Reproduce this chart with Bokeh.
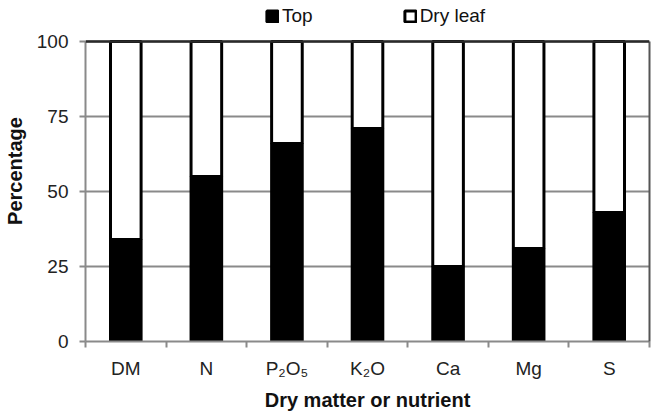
from bokeh.plotting import figure
from bokeh.models import ColumnDataSource, FixedTicker, Range1d, Legend, LegendItem, LinearAxis, Span
from bokeh.embed import file_html
from bokeh.resources import INLINE

categories = ["DM", "N", "P₂O₅", "K₂O", "Ca", "Mg", "S"]
top_pct = [34, 55, 66, 71, 25, 31, 43]
dry_leaf_pct = [66, 45, 34, 29, 75, 69, 57]
y_ticks = [0, 25, 50, 75, 100]

xpos = [i + 1 for i in range(len(categories))]
bounds = [i + 0.5 for i in range(len(categories) + 1)]

source = ColumnDataSource(dict(x=xpos, top=top_pct, dry=dry_leaf_pct))

FONT = "Liberation Sans"
GREY = "#8a8a8a"

# frame spans the full height above the x axis; the room above 100 holds the legend
p = figure(width=655, height=413, output_backend="svg", toolbar_location=None,
           x_range=Range1d(0.5, 0.5 + len(categories)), y_range=Range1d(0, 100 * 341 / 300),
           min_border_left=85, min_border_right=6, min_border_top=0, min_border_bottom=72)

p.xgrid.grid_line_color = None
p.ygrid.grid_line_color = GREY
p.ygrid.grid_line_width = 2
p.outline_line_color = None

# dark top edge of the plot area
p.add_layout(Span(location=y_ticks[-1], dimension="width", line_color="#2a2a2a", line_width=2.5))

rs = p.vbar_stack(["top", "dry"], x="x", width=0.38, color=["black", "white"],
                  line_color="black", line_width=3, source=source)

# y axis
p.yaxis.ticker = FixedTicker(ticks=y_ticks)
p.yaxis.bounds = (0, 100)
p.yaxis.axis_line_color = GREY
p.yaxis.axis_line_width = 2
p.yaxis.major_tick_line_color = GREY
p.yaxis.major_tick_line_width = 2
p.yaxis.major_tick_out = 6
p.yaxis.major_tick_in = 0
p.yaxis.minor_tick_line_color = None
p.yaxis.major_label_text_font = FONT
p.yaxis.major_label_text_font_size = "19px"
p.yaxis.major_label_text_color = "#222222"
p.yaxis.major_label_standoff = 11
p.yaxis.axis_label = "Percentage"
p.yaxis.axis_label_text_font = FONT
p.yaxis.axis_label_text_font_style = "bold"
p.yaxis.axis_label_text_font_size = "20px"
p.yaxis.axis_label_text_color = "#111111"
p.yaxis.axis_label_standoff = 8

# right border line of the plot area
right = LinearAxis(ticker=FixedTicker(ticks=[]), bounds=(0, 100),
                   axis_line_color="#555555", axis_line_width=2,
                   major_tick_line_color=None, minor_tick_line_color=None,
                   major_tick_out=0, major_tick_in=0, major_label_standoff=0,
                   major_label_text_font_size="0px")
p.add_layout(right, "right")

# x axis
p.xaxis.ticker = FixedTicker(ticks=xpos, minor_ticks=bounds)
p.xaxis.major_label_overrides = {x: c for x, c in zip(xpos, categories)}
p.xaxis.axis_line_color = GREY
p.xaxis.axis_line_width = 2
p.xaxis.major_tick_line_color = None
p.xaxis.major_tick_out = 0
p.xaxis.major_tick_in = 0
p.xaxis.minor_tick_line_color = GREY
p.xaxis.minor_tick_line_width = 2
p.xaxis.minor_tick_out = 6
p.xaxis.minor_tick_in = 0
p.xaxis.major_label_text_font = FONT
p.xaxis.major_label_text_font_size = "19px"
p.xaxis.major_label_text_color = "#222222"
p.xaxis.major_label_standoff = 10
p.xaxis.axis_label = "Dry matter or nutrient"
p.xaxis.axis_label_text_font = FONT
p.xaxis.axis_label_text_font_style = "bold"
p.xaxis.axis_label_text_font_size = "20px"
p.xaxis.axis_label_text_color = "#111111"
p.xaxis.axis_label_standoff = 7

legend = Legend(items=[LegendItem(label="Top", renderers=[rs[0]]),
                       LegendItem(label="Dry leaf", renderers=[rs[1]])],
                location=(180, 314), orientation="horizontal",
                glyph_width=14, glyph_height=14, label_height=20, label_standoff=3,
                spacing=90, padding=0, margin=0,
                label_text_font=FONT, label_text_font_size="19px", label_text_color="#111111",
                border_line_color=None, background_fill_alpha=0)
p.add_layout(legend, "center")

open("out.html", "w").write(file_html(p, INLINE))
